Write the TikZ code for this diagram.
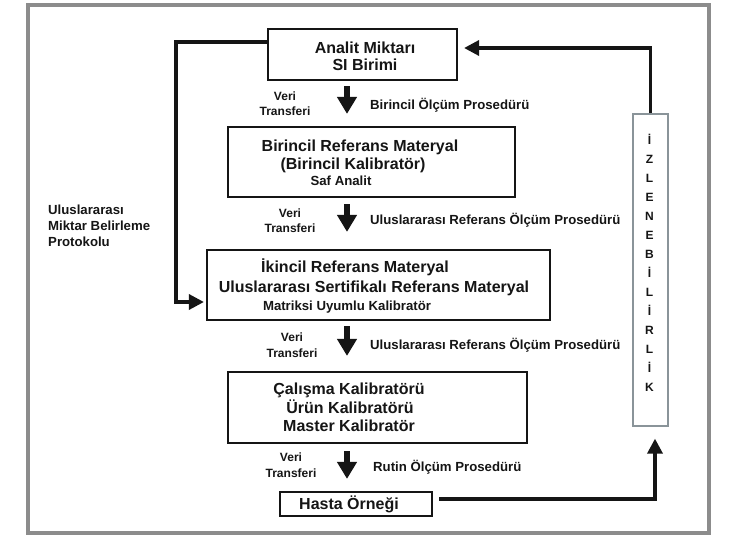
\documentclass[tikz,border=0pt]{standalone}
\usepackage{fontspec}
\setmainfont{Liberation Sans}
\usetikzlibrary{arrows.meta}
\definecolor{ink}{HTML}{151515}
\definecolor{framegray}{HTML}{8C8C8C}
\definecolor{izlgray}{HTML}{8A9499}
\begin{document}
\begin{tikzpicture}[x=1pt,y=-1pt,
  box/.style={draw=ink, line width=2.2pt, rectangle, inner sep=0pt},
  big/.style={inner sep=0pt, text=ink, text height=11.4pt, text depth=0pt, font=\fontsize{16}{18}\selectfont\bfseries},
  mid/.style={inner sep=0pt, text=ink, text height=9.4pt, text depth=0pt, font=\fontsize{13.2}{15}\selectfont\bfseries},
  sml/.style={inner sep=0pt, text=ink, text height=8.8pt, text depth=0pt, font=\fontsize{12}{14}\selectfont\bfseries},
  conn/.style={draw=ink, line width=3.4pt, -{Triangle[length=15pt,width=15pt]}},
  down/.style={draw=ink, line width=5.5pt, -{Triangle[length=17pt,width=19pt]}}
]
\useasboundingbox (0,0) rectangle (731,535);
\fill[white] (0,0) rectangle (731,535);
\draw[framegray, line width=3.5pt] (28,5) rectangle (709,533);

% boxes
\node[box, minimum width=189pt, minimum height=51pt] (b1) at (362.5,54.5) {};
\node[box, minimum width=287pt, minimum height=70pt] (b2) at (371.5,162) {};
\node[box, minimum width=343pt, minimum height=70pt] (b3) at (378.5,285) {};
\node[box, minimum width=299pt, minimum height=71pt] (b4) at (377.5,407.5) {};
\node[box, minimum width=152pt, minimum height=24pt] (b5) at (356,504) {};
\node[draw=izlgray, line width=1.3pt, rectangle, inner sep=0pt, minimum width=35pt, minimum height=312pt] (izl) at (650.5,270) {};

% box texts
\node[big] (t1a) at (365,48) {Analit Miktarı};
\node[big] (t1b) at (365,65) {SI Birimi};
\node[big] (t2a) at (360,146) {Birincil Referans Materyal};
\node[big] (t2b) at (353,164) {(Birincil Kalibratör)};
\node[mid] (t2c) at (341,181) {Saf Analit};
\node[big] (t3a) at (355,267) {İkincil Referans Materyal};
\node[big] (t3b) at (374,287) {Uluslararası Sertifikalı Referans Materyal};
\node[mid] (t3c) at (347,306) {Matriksi Uyumlu Kalibratör};
\node[big] (t4a) at (349,389) {Çalışma Kalibratörü};
\node[big] (t4b) at (350,408) {Ürün Kalibratörü};
\node[big] (t4c) at (349,426) {Master Kalibratör};
\node[big] (t5) at (349,504) {Hasta Örneği};

% down arrows
\coordinate (ax) at (347,0);
\draw[down, shorten <=5pt, shorten >=12pt] (b1.south -| ax) -- (b2.north -| ax);
\draw[down, shorten <=6pt, shorten >=17pt] (b2.south -| ax) -- (b3.north -| ax);
\draw[down, shorten <=5pt, shorten >=15pt] (b3.south -| ax) -- (b4.north -| ax);
\draw[down, shorten <=7pt, shorten >=12pt] (b4.south -| ax) -- (b5.north -| ax);

% Veri Transferi labels
\node[sml] (v1) at (285,96) {Veri};
\node[sml] (r1) at (285,111) {Transferi};
\node[sml] (v2) at (290,213) {Veri};
\node[sml] (r2) at (290,228) {Transferi};
\node[sml] (v3) at (292,337) {Veri};
\node[sml] (r3) at (292,353) {Transferi};
\node[sml] (v4) at (291,457) {Veri};
\node[sml] (r4) at (291,473) {Transferi};

% procedure labels
\node[mid, anchor=west] (p1) at (370,105) {Birincil Ölçüm Prosedürü};
\node[mid, anchor=west] (p2) at (370,220) {Uluslararası Referans Ölçüm Prosedürü};
\node[mid, anchor=west] (p3) at (370,345) {Uluslararası Referans Ölçüm Prosedürü};
\node[mid, anchor=west] (p4) at (373,467) {Rutin Ölçüm Prosedürü};

% left label
\node[mid, anchor=west] (l1) at (48,210) {Uluslararası};
\node[mid, anchor=west] (l2) at (48,226) {Miktar Belirleme};
\node[mid, anchor=west] (l3) at (48,242) {Protokolu};

% vertical letters
\foreach \ch [count=\i from 0] in {İ,Z,L,E,N,E,B,İ,L,İ,R,L,İ,K}
  \node[sml] (z\i) at (649.5,140+19*\i) {\ch};

% connectors
\coordinate (lc) at (176,0);
\coordinate (b3w) at ([yshift=-17pt]b3.west);
\draw[conn, shorten >=2pt] ([yshift=12.5pt]b1.west) -| (lc |- b3w) -- (b3w);
\draw[conn, shorten >=6pt] (izl.north) |- ([yshift=6.5pt]b1.east);
\draw[conn, shorten <=6pt, shorten >=12pt] ([yshift=5pt]b5.east) -| ([xshift=4.5pt]izl.south);
\end{tikzpicture}
\end{document}
